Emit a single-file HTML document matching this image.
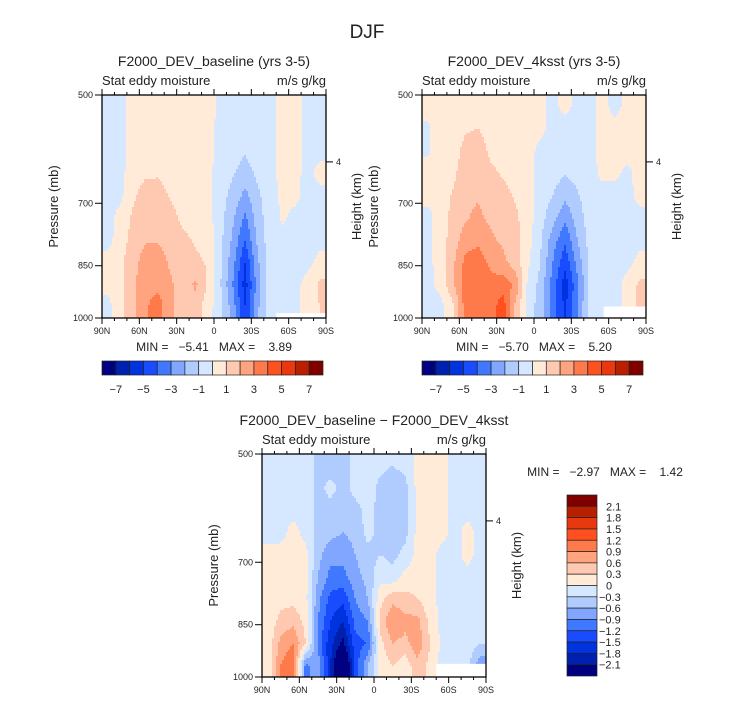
<!DOCTYPE html>
<html><head><meta charset="utf-8">
<style>
html,body{margin:0;padding:0;background:#fff;}
svg{display:block;font-family:"Liberation Sans",sans-serif;}
text{fill:#222;}
</style></head>
<body>
<svg id="fig" width="733" height="702" viewBox="0 0 733 702" xmlns="http://www.w3.org/2000/svg">
<text x="367" y="38" font-size="19" text-anchor="middle" fill="#444">DJF</text>
</svg>
<script>
// ---- data ----
const latCenters = [85,75,65,55,45,35,25,15,5,-5,-15,-25,-35,-45,-55,-65,-75,-85];
const presTicks = [500,700,850,1000];
const latTickLabels = ["90N","60N","30N","0","30S","60S","90S"];
const levels1 = [-7,-6,-5,-4,-3,-2,-1,0,1,2,3,4,5,6,7];
const levelLabels1 = ["-7","-5","-3","-1","1","3","5","7"];
const levels3 = [-2.1,-1.8,-1.5,-1.2,-0.9,-0.6,-0.3,0,0.3,0.6,0.9,1.2,1.5,1.8,2.1];
const levelLabels3 = ["2.1","1.8","1.5","1.2","0.9","0.6","0.3","0","-0.3","-0.6","-0.9","-1.2","-1.5","-1.8","-2.1"];
// columns = latitude (85N..85S), each inner array = 10 levels from 500mb (top) to 1000mb (bottom)
const baseline = [
[-0.3,-0.3,-0.3,-0.3,-0.3,-0.3,-0.3,0.3,0.3,-0.3],
[-0.4,-0.4,-0.4,-0.3,-0.2,0.3,0.5,0.8,0.8,0.6],
[0.5,0.5,0.5,0.6,0.8,1.2,1.4,1.6,1.8,1.8],
[0.5,0.5,0.6,0.8,1.5,1.8,1.9,2.5,2.7,2.9],
[0.5,0.5,0.6,0.9,1.4,1.8,1.9,2.6,2.8,3.4],
[0.5,0.5,0.5,0.6,0.9,1.3,1.5,1.8,2.2,2.4],
[0.4,0.5,0.5,0.5,0.6,0.8,1.2,1.4,1.3,1.2],
[0.3,0.5,0.5,0.5,0.5,0.7,0.9,1.2,2.2,1.5],
[0.5,0.5,0.4,0.3,0.3,0.4,0.6,0.9,0.9,0.5],
[-0.3,-0.4,-0.4,-0.5,-0.6,-0.6,-0.7,-0.8,-0.9,-0.7],
[-0.4,-0.5,-0.6,-0.9,-1.3,-1.8,-2.2,-2.6,-3.0,-2.5],
[-0.4,-0.6,-0.9,-1.4,-2.3,-3.2,-4.0,-5.0,-5.5,-5.0],
[-0.3,-0.4,-0.5,-0.8,-1.2,-1.5,-1.8,-2.2,-2.5,-2.2],
[-0.3,-0.3,-0.3,-0.3,-0.4,-0.4,-0.4,-0.5,-0.5,-0.4],
[0.3,0.3,0.3,0.3,0.2,0.1,-0.2,-0.3,-0.3,-0.3],
[0.3,0.3,0.3,0.3,0.2,-0.2,-0.3,-0.3,-0.3,-0.3],
[-0.3,-0.3,-0.3,-0.3,-0.3,-0.3,-0.3,-0.3,0.3,0.5],
[-0.3,-0.3,-0.3,0.3,-0.3,-0.3,-0.3,0.3,1.2,1.0]
];
const warm = [
[0.2,-0.1,-0.1,0.3,0.3,-0.3,-0.3,-0.3,-0.3,-0.4],
[0.4,0.4,0.4,0.5,0.5,0.5,0.5,0.5,0.3,-0.3],
[0.5,0.5,0.6,0.8,1.1,1.3,1.5,1.8,1.8,0.8],
[0.6,0.9,1.3,1.5,1.8,1.9,2.5,3.3,3.6,3.5],
[0.6,1.0,1.5,1.7,1.9,2.2,2.8,3.5,3.8,4.0],
[0.5,0.6,0.8,1.2,1.6,1.8,2.2,2.8,3.3,3.5],
[0.5,0.5,0.6,0.9,1.3,1.5,1.8,2.3,3.5,4.6],
[0.4,0.5,0.5,0.6,0.9,1.2,1.3,1.5,2.8,1.8],
[0.4,0.4,0.4,0.5,0.5,0.5,0.4,0.2,-0.2,-0.4],
[0.3,0.3,-0.3,-0.4,-0.5,-0.6,-0.8,-1.0,-1.3,-1.5],
[-0.3,-0.4,-0.5,-0.6,-1.0,-1.6,-2.5,-3.0,-3.4,-3.6],
[0.3,-0.4,-0.6,-0.9,-1.7,-2.8,-3.8,-4.7,-5.6,-5.2],
[-0.3,-0.4,-0.5,-0.7,-1.1,-1.5,-2.0,-2.6,-3.2,-3.0],
[-0.3,-0.3,-0.3,-0.3,-0.4,-0.5,-0.6,-0.7,-0.8,-0.6],
[0.3,0.3,0.3,0.2,-0.3,-0.3,-0.3,-0.3,-0.3,-0.3],
[-0.3,0.3,0.3,0.2,-0.3,-0.3,-0.3,-0.3,-0.3,-0.3],
[0.3,0.3,0.3,-0.2,-0.3,-0.3,-0.3,-0.3,0.3,0.3],
[0.3,0.3,0.3,0.3,0.3,-0.3,-0.3,0.3,1.2,1.3]
];
const diff = [
[-0.1,-0.1,-0.1,-0.1,0.1,0.1,0.1,0.1,0.1,0.1],
[-0.1,-0.1,-0.1,-0.1,0.1,0.1,0.2,0.4,0.7,0.9],
[-0.1,-0.1,-0.1,0.1,0.1,0.15,0.2,0.5,0.9,1.2],
[-0.1,-0.1,-0.1,-0.1,0.1,0.1,0.1,0.2,0.3,-1.0],
[-0.4,-0.4,-0.4,-0.4,-0.5,-0.6,-0.8,-0.9,-1.0,-0.7],
[-0.5,-0.2,-0.4,-0.5,-0.8,-1.0,-1.3,-1.5,-1.7,-1.8],
[-0.4,-0.4,-0.5,-0.6,-0.8,-1.0,-1.4,-1.8,-2.2,-2.9],
[-0.2,-0.2,-0.4,-0.5,-0.6,-0.7,-0.9,-1.1,-1.3,-1.4],
[-0.2,-0.1,-0.2,-0.2,-0.4,-0.5,-0.6,-0.9,-1.2,-0.6],
[-0.2,-0.4,-0.4,-0.4,-0.3,-0.1,0.2,0.4,0.2,0.1],
[-0.3,-0.5,-0.5,-0.5,-0.4,-0.2,0.5,0.9,0.6,0.3],
[-0.2,-0.4,-0.4,-0.4,-0.2,0.1,0.4,0.7,0.5,0.1],
[0.1,0.1,0.1,0.1,0.1,0.15,0.3,0.7,0.8,0.5],
[0.1,0.1,0.1,0.1,0.1,0.1,0.1,0.2,0.3,0.2],
[0.1,0.1,0.1,0.1,-0.1,-0.1,-0.1,-0.1,-0.1,-0.1],
[-0.1,-0.1,-0.1,-0.1,-0.1,-0.1,-0.1,-0.1,-0.1,-0.1],
[-0.1,-0.1,-0.1,0.1,0.1,-0.1,-0.1,-0.1,-0.1,-0.2],
[-0.1,-0.1,-0.1,-0.1,-0.1,-0.1,-0.1,-0.1,-0.3,-0.8]
];
const stats1 = ["-5.41","3.89"];
const stats2 = ["-5.70","5.20"];
const stats3 = ["-2.97","1.42"];
const missing1 = [-50, 985];
const missing2 = [-56, 965];
const missing3 = [-50, 960];

const colors = ["#000080","#0020b0","#0033e0","#1a4cff","#4078ff","#80a6ff","#b0ccff","#d6e8ff",
                "#ffebd8","#ffc8b0","#ffa47e","#ff7a4a","#ff5020","#e83810","#b82000","#800000"];
const NS="http://www.w3.org/2000/svg";
const svg=document.getElementById('fig');
function mk(tag,attrs,parent){const e=document.createElementNS(NS,tag);for(const k in attrs)e.setAttribute(k,attrs[k]);(parent||svg).appendChild(e);return e;}
function txt(s,attrs,parent){const e=mk('text',attrs,parent);e.textContent=s;return e;}

function panel(o){
  const g=mk('g',{});
  
  
  const L=o.x,T=o.y,W=224,H=223;
  const xs=lat=>L+(90-lat)/180*W;
  const ys=p=>T+Math.log(p/500)/Math.log(2)*H;
  const nC=o.data.length,nR=o.data[0].length;
  function val(fx,fy){
    let c=fx*nC-0.5,r=fy*nR-0.5;
    c=Math.max(0,Math.min(nC-1,c));r=Math.max(0,Math.min(nR-1,r));
    const c0=Math.floor(c),r0=Math.floor(r),c1=Math.min(nC-1,c0+1),r1=Math.min(nR-1,r0+1);
    const a=c-c0,b=r-r0,d=o.data;
    return (d[c0][r0]*(1-a)+d[c1][r0]*a)*(1-b)+(d[c0][r1]*(1-a)+d[c1][r1]*a)*b;
  }
  function idx(v){let i=0;while(i<o.levels.length&&v>=o.levels[i]-1e-9)i++;return i;}
  const cg=mk('g',{},g);
  
  
  const step=2;
  for(let py=0;py<H;py+=step){
    let start=0,cur=null;
    for(let px=0;px<=W;px+=step){
      const ci=px<W?idx(val((px+1)/W,(py+1)/H)):-1;
      if(cur===null){cur=ci;start=px;continue;}
      if(ci!==cur){
        const r=mk('rect',{x:L+start,y:T+py,width:px-start+0.5,height:Math.min(step,H-py)+0.5,fill:colors[cur]},cg);
        
        
        cur=ci;start=px;
      }
    }
  }
  const m=mk('rect',{x:xs(o.missing[0]),y:ys(o.missing[1]),width:L+W-xs(o.missing[0]),height:T+H-ys(o.missing[1]),fill:"#fff"},g);
  
  
  const fr=mk('rect',{x:L,y:T,width:W,height:H,fill:"none",stroke:"#000","stroke-width":1.3},g);
  
  
  for(let lat=90;lat>=-90;lat-=10){
    const major=lat%30===0,len=major?6:3,x=xs(lat);
    mk('line',{x1:x,x2:x,y1:T+H,y2:T+H+len,stroke:"#000","stroke-width":1},g);
    mk('line',{x1:x,x2:x,y1:T,y2:T-len,stroke:"#000","stroke-width":1},g);
  }
  latTickLabels.forEach((s,i)=>{
    const t=txt(s,{x:xs(90-30*i),y:T+H+16,"font-size":9,"text-anchor":"middle"},g);
    
    
  });
  presTicks.forEach(p=>{
    mk('line',{x1:L-7,x2:L,y1:ys(p),y2:ys(p),stroke:"#000","stroke-width":1},g);
    const t=txt(String(p),{x:L-9,y:ys(p)+3,"font-size":9,"text-anchor":"end"},g);
    
    
  });
  const hy=T+0.3*H;
  mk('line',{x1:L+W,x2:L+W+7,y1:hy,y2:hy,stroke:"#000","stroke-width":1},g);
  const h4=txt("4",{x:L+W+10,y:hy+3,"font-size":9},g);
  
  
  const yt=txt("Pressure (mb)",{x:0,y:0,"font-size":13,"text-anchor":"middle",fill:"#444",transform:`translate(${L-44},${T+H/2}) rotate(-90)`},g);
  
  
  const ht=txt("Height (km)",{x:0,y:0,"font-size":13,"text-anchor":"middle",fill:"#444",transform:`translate(${L+W+35},${T+H/2}) rotate(-90)`},g);
  
  
  const tt=txt(o.title,{x:L+W/2,y:T-29,"font-size":14,"text-anchor":"middle",fill:"#333"},g);
  
  
  const st=txt("Stat eddy moisture",{x:L,y:T-10,"font-size":13,fill:"#333"},g);
  
  
  const un=txt("m/s g/kg",{x:L+W,y:T-10,"font-size":13,"text-anchor":"end",fill:"#333"},g);
  
  
  const mm=txt(`MIN =   ${o.stats[0].replace('-','\u2212')}   MAX =    ${o.stats[1]}`,{x:o.statX,y:o.statY,"font-size":12,"text-anchor":"middle",fill:"#333"},g);
  mm.style.whiteSpace="pre";
  
  
}
function hbar(x0,y0,name){
  const g=mk('g',{});
  
  
  const w=221/16,h=14;
  colors.forEach((c,i)=>{
    const r=mk('rect',{x:x0+i*w,y:y0,width:w,height:h,fill:c,stroke:"#222","stroke-width":0.7},g);
    
    
  });
  levelLabels1.forEach((s,i)=>{
    const t=txt(s.replace('-','\u2212'),{x:x0+(1+2*i)*w,y:y0+32,"font-size":11,"text-anchor":"middle",fill:"#333"},g);
    
    
  });
}
panel({name:"baseline-panel",x:102,y:95,data:baseline,levels:levels1,title:"F2000_DEV_baseline (yrs 3-5)",stats:stats1,statX:214,statY:351,missing:missing1});
panel({name:"4ksst-panel",x:422,y:95,data:warm,levels:levels1,title:"F2000_DEV_4ksst (yrs 3-5)",stats:stats2,statX:534,statY:351,missing:missing2});
panel({name:"difference-panel",x:262,y:454,data:diff,levels:levels3,title:"F2000_DEV_baseline \u2212 F2000_DEV_4ksst",stats:stats3,statX:605,statY:476,missing:missing3});
hbar(102,361,"baseline-colorbar");
hbar(422,361,"4ksst-colorbar");
(function(){
  const g=mk('g',{});
  
  
  const x0=567,y0=495,w=30,h=181/16;
  colors.slice().reverse().forEach((c,i)=>{
    const r=mk('rect',{x:x0,y:y0+i*h,width:w,height:h,fill:c,stroke:"#222","stroke-width":0.7},g);
    
    
  });
  levelLabels3.forEach((s,i)=>{
    const t=txt(s.replace('-','\u2212'),{x:s.startsWith('-')?x0+32:x0+39,y:y0+(i+1)*h+4,"font-size":11,fill:"#333"},g);
    
    
  });
})();
</script>
</body></html>
